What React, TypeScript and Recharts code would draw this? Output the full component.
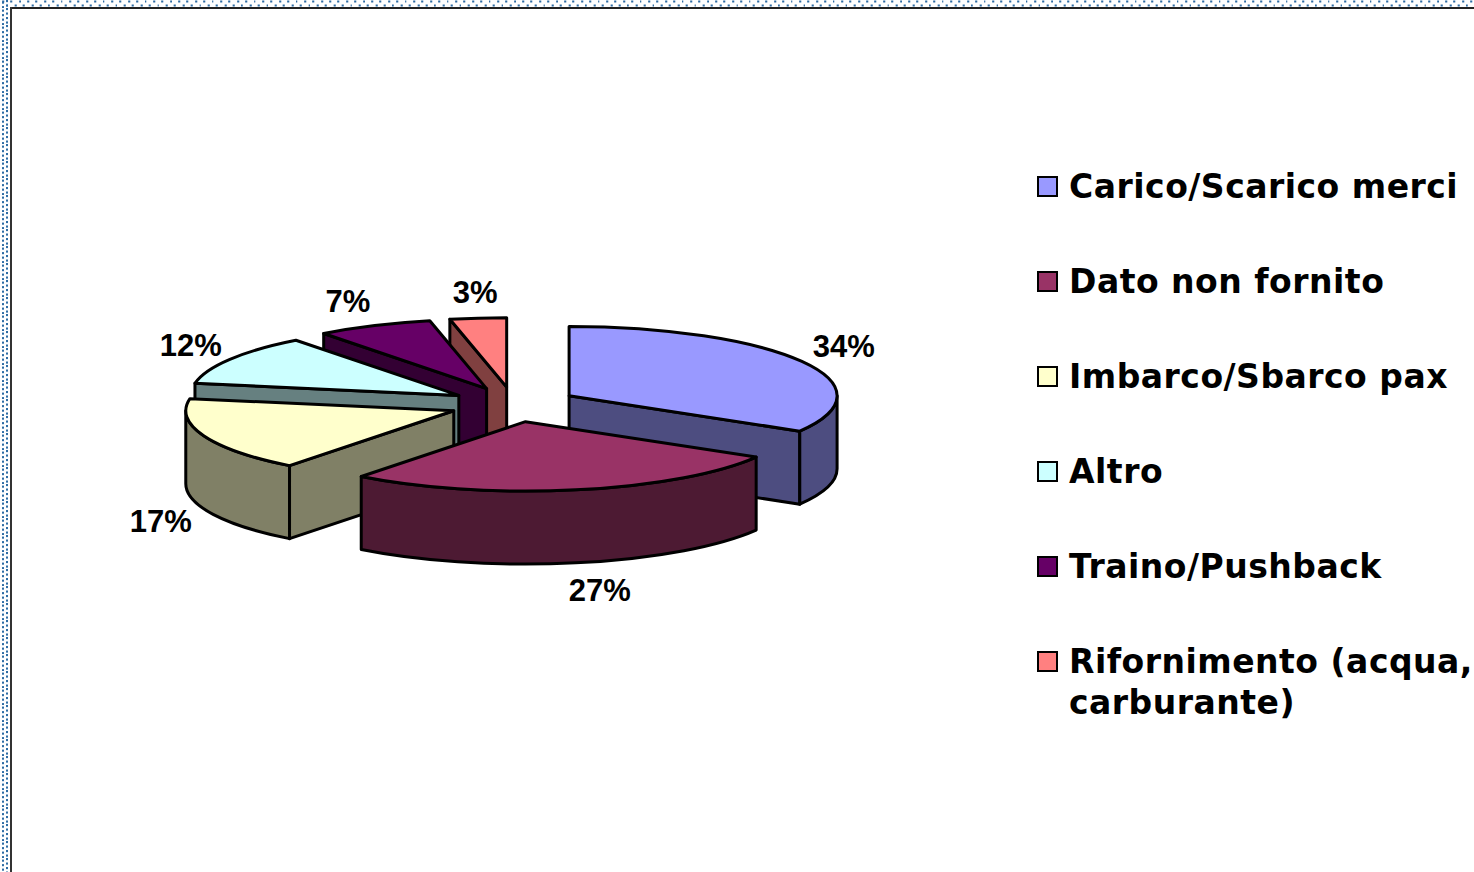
import { Cell, Legend, Pie, PieChart } from "recharts";

const categories = [
  "Carico/Scarico merci",
  "Dato non fornito",
  "Imbarco/Sbarco pax",
  "Altro",
  "Traino/Pushback",
  "Rifornimento (acqua, carburante)",
];
// the labels show them rounded
const shares = [33.5, 27, 17.3, 11.8, 7, 3.4];
const topColors = ["#9999FF", "#993366", "#FFFFCC", "#CCFFFF", "#660066", "#FF8080"];
const sideColors = ["#4D4D80", "#4D1A33", "#808066", "#668080", "#330033", "#804040"];

// back to front, so the nearer slices cover the walls behind them
const paintOrder = [0, 5, 4, 3, 2, 1];

const pieData = paintOrder.map((i) => ({
  name: categories[i],
  value: shares[i],
  top: topColors[i],
  side: sideColors[i],
}));

// 3d look of the original
const SQUASH = 0.259;
const DEPTH = 73;
const EXPLODE_X = 64;
const EXPLODE_Y = 17.5;
const OUTLINE = 3;

// label shift from the slice rim, by category
const labelShift: Record<string, [number, number]> = {
  "Carico/Scarico merci": [42, -15],
  "Dato non fornito": [24, 28],
  "Imbarco/Sbarco pax": [-43, 13],
  Altro: [-39, -14],
  "Traino/Pushback": [-26, -24],
  "Rifornimento (acqua, carburante)": [-3, -26],
};

const rad = (deg: number) => (deg * Math.PI) / 180;

// slice apex, pushed out along the middle of the slice
function apexOf(cx: number, cy: number, midAngle: number) {
  return {
    x: cx + EXPLODE_X * Math.cos(rad(midAngle)),
    y: cy - EXPLODE_Y * Math.sin(rad(midAngle)),
  };
}

function Slice3D(props: any) {
  const { cx, cy, outerRadius: r, startAngle, endAngle, payload } = props;
  const top = payload.top;
  const side = payload.side;
  const mid = (startAngle + endAngle) / 2;
  const apex = apexOf(cx, cy, mid);
  const ry = r * SQUASH;
  // angles clockwise from 12 o'clock, kept in 0..360
  let a1 = 90 - endAngle;
  let a2 = 90 - startAngle;
  if (a1 < -0.001) {
    a1 += 360;
    a2 += 360;
  }
  const rim = (a: number) => ({
    x: apex.x + r * Math.sin(rad(a)),
    y: apex.y - ry * Math.cos(rad(a)),
  });
  const p1 = rim(a1);
  const p2 = rim(a2);
  const large = a2 - a1 > 180 ? 1 : 0;
  const stroke = { stroke: "#000", strokeWidth: OUTLINE, strokeLinejoin: "round" as const };

  const wall = (p: { x: number; y: number }) =>
    `M${apex.x},${apex.y} L${p.x},${p.y} L${p.x},${p.y + DEPTH} L${apex.x},${apex.y + DEPTH} Z`;

  const from = Math.max(a1, 90);
  const to = Math.min(a2, 270);
  let rimPath = "";
  if (to > from) {
    const s = rim(from);
    const e = rim(to);
    rimPath =
      `M${s.x},${s.y} A${r},${ry} 0 0 1 ${e.x},${e.y} ` +
      `L${e.x},${e.y + DEPTH} A${r},${ry} 0 0 0 ${s.x},${s.y + DEPTH} Z`;
  }

  return (
    <g>
      {Math.sin(rad(a1)) < 0 && <path d={wall(p1)} fill={side} {...stroke} />}
      {Math.sin(rad(a2)) > 0 && <path d={wall(p2)} fill={side} {...stroke} />}
      {rimPath && <path d={rimPath} fill={side} {...stroke} />}
      <path
        d={`M${apex.x},${apex.y} L${p1.x},${p1.y} A${r},${ry} 0 ${large} 1 ${p2.x},${p2.y} Z`}
        fill={top}
        {...stroke}
      />
    </g>
  );
}

function SliceLabel(props: any) {
  const { cx, cy, outerRadius: r, midAngle, name, value } = props;
  const apex = apexOf(cx, cy, midAngle);
  const cosA = Math.cos(rad(midAngle));
  const sinA = Math.sin(rad(midAngle));
  const x = apex.x + r * cosA;
  const y = apex.y - r * SQUASH * sinA + (sinA < 0 ? DEPTH : 0);
  const [dx, dy] = labelShift[name];
  return (
    <text
      x={x + dx}
      y={y + dy}
      textAnchor="middle"
      dominantBaseline="central"
      fontFamily="Liberation Sans"
      fontWeight="bold"
      fontSize={31}
      fill="#000"
    >
      {Math.round(value)}%
    </text>
  );
}

function LegendList() {
  return (
    <div style={{ position: "relative", width: 437, height: 560 }}>
      {categories.map((name, i) => (
        <div key={name} style={{ position: "absolute", left: 0, top: i * 95, width: 437 }}>
          <span
            style={{
              position: "absolute",
              left: 0,
              top: 0,
              width: 17,
              height: 17,
              background: topColors[i],
              border: "2px solid #000",
            }}
          />
          <div
            style={{
              position: "absolute",
              left: 32,
              top: -10,
              width: 410,
              fontFamily: "DejaVu Sans",
              fontWeight: "bold",
              fontSize: 33,
              letterSpacing: 0.5,
              lineHeight: "41px",
              color: "#000",
              whiteSpace: "normal",
            }}
          >
            {name}
          </div>
        </div>
      ))}
    </div>
  );
}

const dotsTop =
  "data:image/svg+xml," +
  encodeURIComponent(
    "<svg xmlns='http://www.w3.org/2000/svg' width='8.4' height='8'><rect x='2' y='0.5' width='2' height='2' fill='#2E6CA4'/><rect x='6.2' y='4.5' width='2' height='2' fill='#2E6CA4'/></svg>",
  );
const dotsLeft =
  "data:image/svg+xml," +
  encodeURIComponent(
    "<svg xmlns='http://www.w3.org/2000/svg' width='8' height='8.5'><rect x='2' y='1.5' width='2' height='2' fill='#2E6CA4'/><rect x='6' y='0' width='2' height='2' fill='#2E6CA4'/><rect x='2' y='5.75' width='2' height='2' fill='#2E6CA4'/><rect x='6' y='4.25' width='2' height='2' fill='#2E6CA4'/></svg>",
  );

const startDeg = 90 - (shares[0] / 100) * 360;

export default function App() {
  return (
    <div
      style={{
        position: "absolute",
        left: 0,
        top: 0,
        width: 1474,
        height: 872,
        overflow: "hidden",
        background: "#fff",
      }}
    >
      <div
        style={{
          position: "absolute",
          left: 0,
          top: 0,
          width: 1474,
          height: 7,
          backgroundImage: `url("${dotsTop}")`,
        }}
      />
      <div
        style={{
          position: "absolute",
          left: 0,
          top: 0,
          width: 9,
          height: 872,
          backgroundImage: `url("${dotsLeft}")`,
        }}
      />
      <div
        style={{ position: "absolute", left: 10, top: 7, width: 1464, height: 2, background: "#222" }}
      />
      <div
        style={{ position: "absolute", left: 10, top: 7, width: 2, height: 865, background: "#333" }}
      />
      <PieChart
        width={1474}
        height={872}
        margin={{ top: 0, right: 0, bottom: 0, left: 0 }}
        style={{ position: "absolute", left: 0, top: 0 }}
      >
        <Pie
          data={pieData}
          dataKey="value"
          nameKey="name"
          cx={513.5}
          cy={404.5}
          outerRadius={268}
          startAngle={startDeg}
          endAngle={startDeg + 360}
          shape={Slice3D}
          label={SliceLabel}
          labelLine={false}
          isAnimationActive={false}
        >
          {pieData.map((d) => (
            <Cell key={d.name} fill={d.top} />
          ))}
        </Pie>
        <Legend
          content={<LegendList />}
          wrapperStyle={{ position: "absolute", left: 1037, top: 176, width: 437, bottom: "auto" }}
        />
      </PieChart>
    </div>
  );
}
